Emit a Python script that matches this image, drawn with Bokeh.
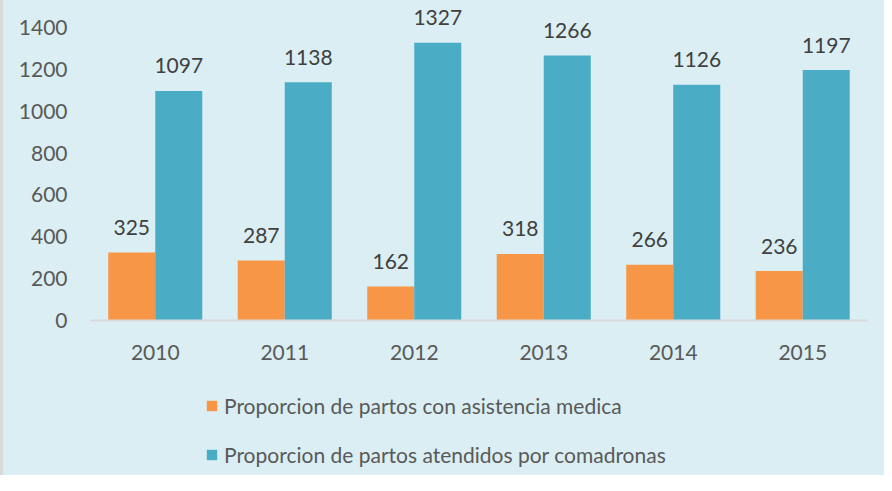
from bokeh.plotting import figure
from bokeh.layouts import column
from bokeh.models import FactorRange, Range1d, FixedTicker, Legend, LegendItem, ColumnDataSource
from bokeh.transform import dodge
from bokeh.core.properties import value
from bokeh.embed import file_html
from bokeh.resources import INLINE

years = ["2010", "2011", "2012", "2013", "2014", "2015"]
medica = [325, 287, 162, 318, 266, 236]
comadronas = [1097, 1138, 1327, 1266, 1126, 1197]
y_ticks = [0, 200, 400, 600, 800, 1000, 1200, 1400]
series_names = ["Proporcion de partos con asistencia medica",
                "Proporcion de partos atendidos por comadronas"]

ORANGE = "#F79646"
BLUE = "#4BACC6"
BG = "#DAEEF3"
FONT = "Lato"
W = 881

src = ColumnDataSource(dict(
    year=years,
    medica=medica,
    comadronas=comadronas,
    medica_lbl=[str(v) for v in medica],
    comadronas_lbl=[str(v) for v in comadronas],
))

p = figure(
    x_range=FactorRange(*years),
    y_range=Range1d(0, 1510),
    width=W, height=380,
    output_backend="svg", toolbar_location=None,
    min_border_left=87, min_border_right=17,
    min_border_top=4, min_border_bottom=60,
    background_fill_color=BG, border_fill_color=BG,
    outline_line_color=None,
)

bw = 0.363
off = bw / 2
r1 = p.vbar(x=dodge("year", -off, range=p.x_range), top="medica", width=bw,
            source=src, fill_color=ORANGE, line_color=None)
r2 = p.vbar(x=dodge("year", off, range=p.x_range), top="comadronas", width=bw,
            source=src, fill_color=BLUE, line_color=None)

for col, lbl, o in (("medica", "medica_lbl", -off), ("comadronas", "comadronas_lbl", off)):
    p.text(x=dodge("year", o, range=p.x_range), y=col, text=lbl, source=src,
           text_align="center", text_baseline="middle", y_offset=-25,
           text_font=value(FONT), text_font_size="21px", text_color="#404040")

p.xgrid.grid_line_color = None
p.ygrid.grid_line_color = None

p.yaxis.ticker = FixedTicker(ticks=y_ticks)
p.yaxis.axis_line_color = None
p.yaxis.major_tick_line_color = None
p.yaxis.minor_tick_line_color = None
p.yaxis.major_label_standoff = 17
p.yaxis.major_label_text_font = FONT
p.yaxis.major_label_text_font_size = "21px"
p.yaxis.major_label_text_color = "#595959"

p.xaxis.axis_line_color = "#D9D9D9"
p.xaxis.axis_line_width = 2
p.xaxis.major_tick_line_color = None
p.xaxis.minor_tick_line_color = None
p.xaxis.major_label_standoff = 18
p.xaxis.major_label_text_font = FONT
p.xaxis.major_label_text_font_size = "21px"
p.xaxis.major_label_text_color = "#595959"

# Legend panel (second figure, same background)
lg = figure(
    width=W, height=95,
    x_range=Range1d(0, 1), y_range=Range1d(0, 1),
    x_axis_location=None, y_axis_location=None,
    output_backend="svg", toolbar_location=None,
    min_border=0, min_border_left=0, min_border_right=0,
    min_border_top=0, min_border_bottom=0,
    background_fill_color=BG, border_fill_color=BG,
    outline_line_color=None,
)
lg.grid.visible = False
nan = float("nan")
key_src = ColumnDataSource(dict(x=[nan], top=[nan]))
k1 = lg.vbar(x="x", top="top", width=0.1, source=key_src, fill_color=ORANGE, line_color=None)
k2 = lg.vbar(x="x", top="top", width=0.1, source=key_src, fill_color=BLUE, line_color=None)

legend = Legend(
    items=[LegendItem(label=series_names[0], renderers=[k1]),
           LegendItem(label=series_names[1], renderers=[k2])],
    location=(115, 8),
    orientation="vertical",
    glyph_width=13, glyph_height=13,
    label_height=20, spacing=24, label_standoff=6,
    padding=0, margin=0,
    background_fill_alpha=0, border_line_color=None,
    label_text_font=FONT, label_text_font_size="21px", label_text_color="#595959",
)
lg.add_layout(legend, "center")

layout = column(p, lg, spacing=0,
                styles={"background-color": BG, "border-left": "3px solid #D9D9D9"})
open("out.html", "w").write(file_html(layout, INLINE))
